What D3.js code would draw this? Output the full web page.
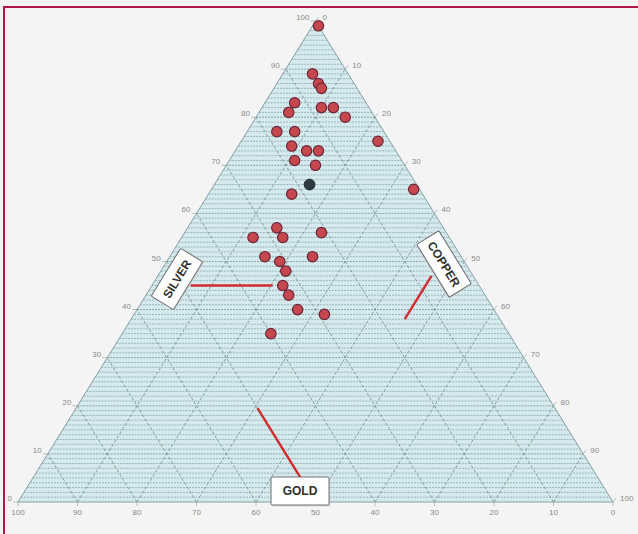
<!DOCTYPE html>
<html>
<head>
<meta charset="utf-8">
<script src="https://cdn.jsdelivr.net/npm/d3@7"></script>
<style>
  html, body { margin: 0; padding: 0; background: #f4f4f4; }
  svg { display: block; }
  .tick-label { font-family: "Liberation Sans", Arial, sans-serif; font-size: 8px; fill: #8a8a8a; }
  .axis-name { font-family: "Liberation Sans Narrow", "Liberation Sans", Arial, sans-serif; font-weight: bold; font-size: 12px; fill: #2e2e2e; }
</style>
</head>
<body>
<svg id="chart" width="638" height="534"></svg>
<script>
// Composition of the samples, percent by weight (silver / copper / gold)
const sampleSilver = [99, 89, 87, 86, 83, 81, 82, 82, 80, 77, 77, 75, 74, 73, 73, 71, 70, 64, 65,
                      55, 57, 55, 56, 51, 50, 51, 48, 45, 43, 40, 39, 35];
const sampleCopper = [1, 5, 7, 8, 5, 5, 10, 12, 15, 5, 8, 23, 9, 12, 14, 11, 15, 14, 34,
                      12, 15, 17, 23, 16, 19, 24, 21, 22, 24, 27, 32, 25];
const sampleGold   = [0, 6, 6, 6, 12, 14, 8, 6, 5, 18, 15, 2, 17, 15, 13, 18, 15, 22, 1,
                      33, 28, 28, 21, 33, 31, 25, 31, 33, 33, 33, 29, 40];

// The one sample marked in black
const markedSilver = [66];
const markedCopper = [16];
const markedGold   = [18];

// Tick labels along each side
const tickValues = [0, 10, 20, 30, 40, 50, 60, 70, 80, 90, 100];

// Pointer lines from the component labels: fixed value and the span they cover
const silverPointer = { value: 45, copperFrom: 6.5, copperTo: 20.3 };
const copperPointer = { value: 46, silverFrom: 38, silverTo: 47 };
const goldPointer   = { value: 50, silverFrom: 5, silverTo: 19.5 };

const svg = d3.select("#chart");

// Page frame
svg.append("line").attr("x1", 3).attr("y1", 7).attr("x2", 638).attr("y2", 7)
  .attr("stroke", "#b3164c").attr("stroke-width", 2);
svg.append("line").attr("x1", 4).attr("y1", 6).attr("x2", 4).attr("y2", 534)
  .attr("stroke", "#b3164c").attr("stroke-width", 2);

// Scales: silver runs up the height, the horizontal position is copper + half of silver
const silverY = d3.scaleLinear().domain([0, 100]).range([502, 21]);
const baseX   = d3.scaleLinear().domain([0, 100]).range([18, 613]);
const pt = (s, c) => [baseX(c + s / 2), silverY(s)];

const line = d3.line();
const g = svg.append("g");

// Triangle body
g.append("path")
  .attr("d", line([pt(0, 0), pt(100, 0), pt(0, 100)]) + "Z")
  .attr("fill", "#d6eaee");

// Fine horizontal rulings at every percent of silver
const grid = g.append("g");
d3.range(1, 100).forEach(i => {
  grid.append("line")
    .attr("x1", pt(i, 0)[0]).attr("y1", pt(i, 0)[1])
    .attr("x2", pt(i, 100 - i)[0]).attr("y2", pt(i, 100 - i)[1])
    .attr("stroke", i % 10 === 0 ? "#7f9ea3" : "#90b1b6")
    .attr("stroke-width", 0.9)
    .attr("stroke-dasharray", "2,1");
});

// Diagonal rulings at every ten percent of copper and gold
d3.range(10, 100, 10).forEach(v => {
  // constant copper
  grid.append("line")
    .attr("x1", pt(0, v)[0]).attr("y1", pt(0, v)[1])
    .attr("x2", pt(100 - v, v)[0]).attr("y2", pt(100 - v, v)[1])
    .attr("stroke", "#6e8a8f").attr("stroke-width", 0.8).attr("stroke-dasharray", "3,2");
  // constant gold
  grid.append("line")
    .attr("x1", pt(0, 100 - v)[0]).attr("y1", pt(0, 100 - v)[1])
    .attr("x2", pt(100 - v, 0)[0]).attr("y2", pt(100 - v, 0)[1])
    .attr("stroke", "#6e8a8f").attr("stroke-width", 0.8).attr("stroke-dasharray", "3,2");
});

// Outline
g.append("path")
  .attr("d", line([pt(0, 0), pt(100, 0), pt(0, 100)]) + "Z")
  .attr("fill", "none").attr("stroke", "#86a0a4").attr("stroke-width", 1);

// Ticks and tick labels
const ticks = svg.append("g");
tickValues.forEach(v => {
  // silver, left side
  const [lx, ly] = pt(v, 0);
  ticks.append("line").attr("x1", lx).attr("y1", ly).attr("x2", lx - 5).attr("y2", ly)
    .attr("stroke", "#9aa").attr("stroke-width", 0.7);
  ticks.append("text").attr("class", "tick-label")
    .attr("x", lx - 6).attr("y", ly - 1).attr("text-anchor", "end").text(v);
  // copper, right side
  const [rx, ry] = pt(100 - v, v);
  ticks.append("line").attr("x1", rx).attr("y1", ry).attr("x2", rx + 3).attr("y2", ry - 4)
    .attr("stroke", "#9aa").attr("stroke-width", 0.7);
  ticks.append("text").attr("class", "tick-label")
    .attr("x", rx + 7).attr("y", ry - 1).attr("text-anchor", "start").text(v);
  // gold, base
  const [bx, by] = pt(0, 100 - v);
  ticks.append("line").attr("x1", bx).attr("y1", by).attr("x2", bx).attr("y2", by + 4)
    .attr("stroke", "#9aa").attr("stroke-width", 0.7);
  ticks.append("text").attr("class", "tick-label")
    .attr("x", bx).attr("y", by + 13).attr("text-anchor", "middle").text(v);
});

// Pointer lines
const red = "#d12b2f";
const pointers = svg.append("g").attr("stroke", red).attr("stroke-width", 2.4).attr("stroke-linecap", "butt");
pointers.append("line")
  .attr("x1", pt(silverPointer.value, silverPointer.copperFrom)[0]).attr("y1", pt(silverPointer.value, silverPointer.copperFrom)[1])
  .attr("x2", pt(silverPointer.value, silverPointer.copperTo)[0]).attr("y2", pt(silverPointer.value, silverPointer.copperTo)[1]);
pointers.append("line")
  .attr("x1", pt(copperPointer.silverFrom, copperPointer.value)[0]).attr("y1", pt(copperPointer.silverFrom, copperPointer.value)[1])
  .attr("x2", pt(copperPointer.silverTo, copperPointer.value)[0]).attr("y2", pt(copperPointer.silverTo, copperPointer.value)[1]);
pointers.append("line")
  .attr("x1", pt(goldPointer.silverFrom, 100 - goldPointer.value - goldPointer.silverFrom)[0])
  .attr("y1", pt(goldPointer.silverFrom, 100 - goldPointer.value - goldPointer.silverFrom)[1])
  .attr("x2", pt(goldPointer.silverTo, 100 - goldPointer.value - goldPointer.silverTo)[0])
  .attr("y2", pt(goldPointer.silverTo, 100 - goldPointer.value - goldPointer.silverTo)[1]);

// Component name boxes
function nameBox(cx, cy, w, h, angle, label) {
  const b = svg.append("g").attr("transform", `translate(${cx},${cy}) rotate(${angle})`);
  b.append("rect").attr("x", -w / 2 + 1.5).attr("y", -h / 2 + 1.5).attr("width", w).attr("height", h)
    .attr("fill", "#c9cfd0").attr("opacity", 0.6);
  b.append("rect").attr("x", -w / 2).attr("y", -h / 2).attr("width", w).attr("height", h)
    .attr("fill", "#ffffff").attr("stroke", "#6f6f6f").attr("stroke-width", 1).attr("rx", 1);
  b.append("text").attr("class", "axis-name").attr("text-anchor", "middle").attr("dy", "0.36em").text(label);
}
nameBox(177, 279, 56, 26, -58.5, "SILVER");
nameBox(444, 264, 62, 26, 58.5, "COPPER");
nameBox(300, 491, 58, 28, 0, "GOLD");

// Samples
const dots = svg.append("g");
dots.selectAll("circle.sample")
  .data(d3.range(sampleSilver.length))
  .join("circle")
  .attr("class", "sample")
  .attr("cx", i => pt(sampleSilver[i], sampleCopper[i])[0])
  .attr("cy", i => pt(sampleSilver[i], sampleCopper[i])[1])
  .attr("r", 5.2)
  .attr("fill", "#c7474f")
  .attr("stroke", "#6a2636")
  .attr("stroke-width", 1.2);

dots.selectAll("circle.marked")
  .data(d3.range(markedSilver.length))
  .join("circle")
  .attr("class", "marked")
  .attr("cx", i => pt(markedSilver[i], markedCopper[i])[0])
  .attr("cy", i => pt(markedSilver[i], markedCopper[i])[1])
  .attr("r", 5.4)
  .attr("fill", "#2d3942")
  .attr("stroke", "#1a2228")
  .attr("stroke-width", 1);
</script>
</body>
</html>
